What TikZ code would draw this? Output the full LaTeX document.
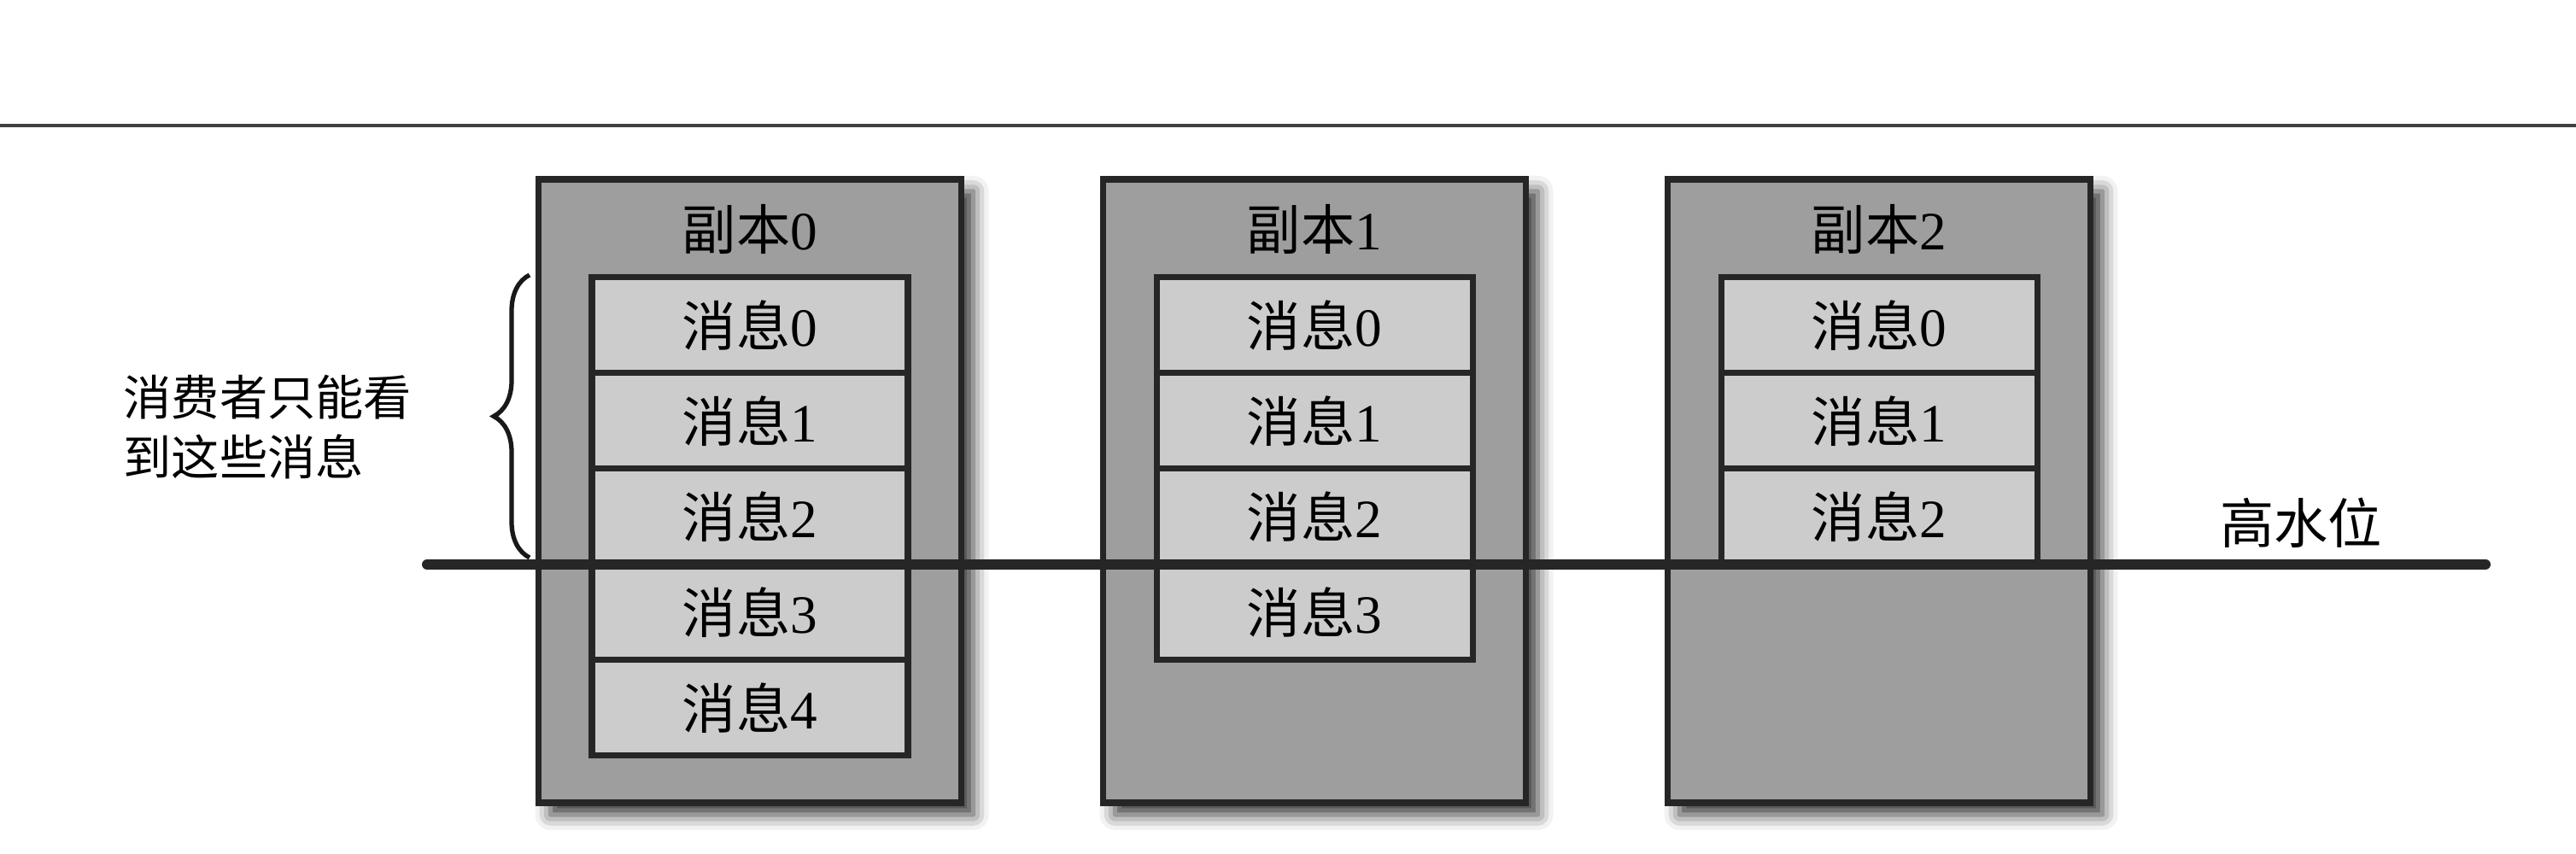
\documentclass[tikz,border=0pt]{standalone}
\usepackage{fontspec}
\setmainfont{Liberation Serif}
\newfontfamily\cjk{Noto Sans CJK SC}
\usetikzlibrary{decorations.pathreplacing,shadows.blur}

\begin{document}
\begin{tikzpicture}[x=1cm,y=1cm]
\tikzset{
    replica/.style={draw=black!85,line width=2.2pt,fill=black!38,minimum width=4.95cm,minimum height=7.3cm,inner sep=0pt,
        blur shadow={shadow xshift=0.14cm,shadow yshift=-0.14cm,shadow blur radius=0.18cm,shadow opacity=80}},
    msg/.style={draw=black!85,line width=2pt,fill=black!20,minimum width=3.7cm,minimum height=1.12cm,inner sep=0pt,font=\fontsize{18}{21}\selectfont},
    title/.style={font=\fontsize{18}{21}\selectfont,inner sep=0pt},
    note/.style={font=\fontsize{16}{20}\selectfont,align=left,inner sep=0pt},
    hwline/.style={line width=3.4pt,line cap=round,draw=black!85}
}
\useasboundingbox (0,0) rectangle (30.16,10);

% page rule
\coordinate (rule-l) at (0,8.53);
\coordinate (rule-r) at (30.16,8.53);
\draw[black!75,line width=0.9pt] (rule-l) -- (rule-r);

% replicas
\node[replica] (rep0) at (8.78,4.25) {};
\node[replica] (rep1) at (15.39,4.25) {};
\node[replica] (rep2) at (22.00,4.25) {};
\node[title] (title0) at (8.78,7.31) {{\cjk 副本}0};
\node[title] (title1) at (15.39,7.31) {{\cjk 副本}1};
\node[title] (title2) at (22.00,7.31) {{\cjk 副本}2};

\node[msg] (m00) at (8.78,6.19) {{\cjk 消息}0};
\node[msg] (m01) at (8.78,5.07) {{\cjk 消息}1};
\node[msg] (m02) at (8.78,3.95) {{\cjk 消息}2};
\node[msg] (m03) at (8.78,2.83) {{\cjk 消息}3};
\node[msg] (m04) at (8.78,1.71) {{\cjk 消息}4};

\node[msg] (m10) at (15.39,6.19) {{\cjk 消息}0};
\node[msg] (m11) at (15.39,5.07) {{\cjk 消息}1};
\node[msg] (m12) at (15.39,3.95) {{\cjk 消息}2};
\node[msg] (m13) at (15.39,2.83) {{\cjk 消息}3};

\node[msg] (m20) at (22.00,6.19) {{\cjk 消息}0};
\node[msg] (m21) at (22.00,5.07) {{\cjk 消息}1};
\node[msg] (m22) at (22.00,3.95) {{\cjk 消息}2};

% high watermark
\coordinate (hw-l) at (5.00,3.39);
\coordinate (hw-r) at (29.10,3.39);
\draw[hwline] (hw-l) -- (hw-r);
\node[title] (hwtext) at (26.94,3.88) {\cjk 高水位};

% what the consumer sees
\coordinate (brace-bot) at (6.20,3.47);
\coordinate (brace-top) at (6.20,6.78);
\draw[decorate,decoration={brace,amplitude=0.42cm},line width=1.5pt,black!90] (brace-bot) -- (brace-top);
\node[note,anchor=west] (seen) at (1.44,5.0) {\cjk 消费者只能看\\\cjk 到这些消息};
\end{tikzpicture}
\end{document}
